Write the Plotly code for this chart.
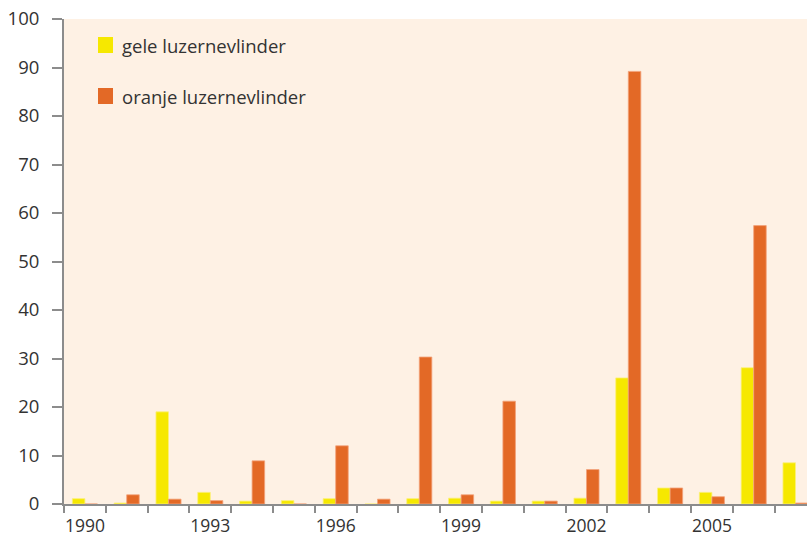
import plotly.graph_objects as go

years = list(range(1990, 2008))
gele = [1.1, 0.2, 19.0, 2.4, 0.6, 0.7, 1.1, 0.0, 1.1, 1.2, 0.6, 0.6, 1.2, 26.0, 3.3, 2.4, 28.1, 8.5]
oranje = [0.0, 1.9, 1.0, 0.7, 8.9, 0.0, 12.0, 1.0, 30.3, 1.9, 21.2, 0.6, 7.1, 89.2, 3.3, 1.5, 57.4, 0.2]
label_years = [1990, 1993, 1996, 1999, 2002, 2005]
y_ticks = list(range(0, 101, 10))
series_names = ["gele luzernevlinder", "oranje luzernevlinder"]

YELLOW = "#F6E800"
ORANGE = "#E36926"
BG = "#FEF1E4"
AXIS = "#8C8C8C"
TEXT = "#333333"
FONT = "Open Sans"

W, H = 807, 538
ML, MR, MT, MB = 64, 0, 19, 34
PW, PH = W - ML - MR, H - MT - MB

def px_x(x):
    return (x - ML) / PW

def px_y(y):
    return 1 - (y - MT) / PH

fig = go.Figure()
fig.add_trace(go.Bar(x=years, y=gele, name=series_names[0], marker=dict(color=YELLOW, line=dict(color="#FBF07A", width=0.8)), showlegend=False))
fig.add_trace(go.Bar(x=years, y=oranje, name=series_names[1], marker=dict(color=ORANGE, line=dict(color="#F2A27A", width=0.8)), showlegend=False))

slot_w = 41.8
x_end = 1989.5 + PW / slot_w
boundaries = [y - 0.5 for y in years] + [years[-1] + 0.5]

fig.update_layout(
    width=W, height=H,
    margin=dict(l=ML, r=MR, t=MT, b=MB, autoexpand=False),
    paper_bgcolor="white",
    plot_bgcolor=BG,
    barmode="group",
    bargap=0.4,
    bargroupgap=0.0,
    font=dict(family=FONT, size=18, color=TEXT),
    xaxis=dict(
        range=[1989.5, x_end], tickmode="array", tickvals=boundaries,
        showticklabels=False, ticks="outside", ticklen=7, tickwidth=2, tickcolor=AXIS,
        showline=True, linecolor=AXIS, linewidth=2, showgrid=False, zeroline=False,
        automargin=False,
    ),
    xaxis2=dict(
        overlaying="x", anchor="y", side="bottom", matches="x",
        range=[1989.5, x_end], tickmode="array", tickvals=label_years,
        ticktext=[str(v) for v in label_years], ticks="", showline=False,
        showgrid=False, zeroline=False, ticklabelstandoff=9, automargin=False,
        tickfont=dict(family=FONT, size=17.5, color=TEXT),
    ),
    yaxis=dict(
        range=[0, 100], tickmode="array", tickvals=y_ticks,
        ticks="outside", ticklen=10, tickwidth=2, tickcolor=AXIS,
        showline=True, linecolor=AXIS, linewidth=2, showgrid=False, zeroline=False,
        ticklabelstandoff=9, automargin=False,
        tickfont=dict(family=FONT, size=18.5, color=TEXT),
    ),
)

fig.add_trace(go.Scatter(x=[years[0]], y=[0], xaxis="x2", mode="markers", marker=dict(opacity=0), showlegend=False, hoverinfo="skip"))

legend_items = [(series_names[0], YELLOW, 37), (series_names[1], ORANGE, 88)]
for name, col, top in legend_items:
    fig.add_shape(type="rect", xref="paper", yref="paper",
                  x0=px_x(98), x1=px_x(113), y0=px_y(top + 16), y1=px_y(top),
                  fillcolor=col, line=dict(width=0))
    fig.add_annotation(xref="paper", yref="paper", x=px_x(120), y=px_y(top + 8),
                       text=name, showarrow=False, xanchor="left", yanchor="middle",
                       font=dict(family=FONT, size=18.5, color=TEXT))

fig.write_html("out.html", config={"displayModeBar": False},
               post_script="document.body.style.margin='0';document.body.style.overflow='hidden';")
